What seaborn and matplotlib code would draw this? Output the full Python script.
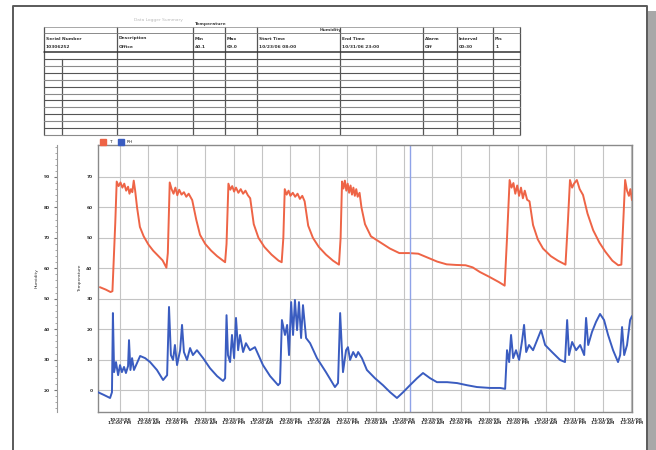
import matplotlib
matplotlib.use("Agg")
import matplotlib.pyplot as plt
from matplotlib.lines import Line2D
from matplotlib.ticker import MultipleLocator
import seaborn as sns
import pandas as pd

# temperature trace (hours from first grid line, value)
temp_hours = [-8.5, -6, -4, -3.2, -2.0, -1.4, -0.6, 0.2, 1.0, 1.8, 2.6, 3.4, 4.0, 4.6, 5.2, 5.8, 6.4,
              7.2, 8.4, 10, 12, 14, 16, 18, 19.6,
              20.2, 21.0, 21.8, 22.6, 23.4, 24.2, 25.0, 26.0, 27.0, 28.0, 29.0, 30.5, 32.2, 33.8,
              36, 38.5, 41, 43, 44.4,
              45.0, 45.8, 46.6, 47.4, 48.2, 49.0, 50.0, 51.0, 52.0, 53.0, 54.0, 55.0, 56.5, 58.5,
              61, 64, 67, 68.3,
              69.0, 69.6, 70.4, 71.2, 72.0, 73.0, 74.0, 75.0, 76.0, 77.0, 78.0, 79.5, 81.5,
              84, 87, 90, 92.5,
              93.2, 93.8, 94.4, 95.0, 95.6, 96.2, 96.8, 97.4, 98.0, 98.6, 99.2, 99.8, 100.4, 101.2,
              102.0, 103.5, 106, 110, 114, 118, 122, 126, 130, 134, 138, 142, 146, 149, 152, 156,
              160, 162.5,
              163.5, 164.6, 165.4, 166.2, 167.0, 167.8, 168.6, 169.4, 170.2, 171.0, 172.0, 173.0,
              174.5, 176.5, 178.7, 182, 185, 188.2,
              189.2, 190.1, 191.0, 191.8, 193.0, 194.2, 195.6, 197.5, 199.9, 202.5, 205, 208,
              210.5, 211.8,
              212.6, 213.4, 214.2, 215.0, 215.6, 216.3]
temp_values = [33.8, 33.0, 32.2, 32.5, 55, 68.5, 67.0, 68.2, 66.5, 67.8, 65.5, 66.8, 64.5, 66.0, 65.0, 68.8, 65.5,
               60.0, 53.6, 50.5, 47.8, 45.8, 44.2, 42.6, 40.2,
               45, 68.2, 66.0, 64.5, 66.5, 64.0, 65.8, 64.2, 65.0, 63.5, 64.5, 62.4, 56, 51.0,
               48.0, 45.8, 44.0, 42.8, 42.0,
               48, 67.8, 65.8, 67.0, 65.2, 66.5, 64.8, 66.0, 64.5, 65.5, 64.0, 63.0, 54.5, 50.0,
               47.0, 44.5, 42.5, 42.0,
               50, 66.0, 64.2, 65.5, 63.8, 64.8, 63.5, 64.5, 62.8, 63.8, 62.0, 54.0, 50.0,
               47.0, 44.5, 42.5, 41.2,
               50, 68.5, 66.2, 68.8, 65.5, 67.8, 64.8, 67.2, 64.2, 66.5, 63.8, 66.0, 63.5, 64.8,
               60, 54.5, 50.5, 48.5, 46.5, 45.0, 45.0, 44.8, 43.5, 42.2, 41.3, 41.1, 41.0, 40.3, 38.8, 37.2,
               35.5, 34.3,
               50, 69.0, 66.5, 68.0, 64.5, 67.2, 63.8, 66.5, 63.0, 65.5, 62.5, 62.0,
               54.2, 49.5, 46.5, 44.0, 42.5, 41.2,
               55, 69.0, 66.5, 67.8, 69.0, 66.0, 64.1, 58, 52.5, 48.5, 45.5, 42.5,
               41.0, 41.2,
               55, 69.0, 65.5, 63.8, 66.0, 62.4]

# relative humidity trace
rh_hours = [-9.3, -6.8, -4.2, -3.4, -3.0, -2.5, -1.7, -0.8, 0, 0.8, 1.7, 2.5, 3.4, 3.8, 4.4, 5.1, 5.9, 6.8,
            8.5, 10.6, 12.7, 15.6, 18.2, 19.9,
            20.7, 21.5, 22.4, 23.2, 24.1, 25.4, 26.2, 27.0, 28.3, 29.6, 30.8, 32.5, 35.1, 38.0, 41.0,
            43.5, 44.4,
            45.0, 45.6, 46.5, 47.3, 48.2, 49.0, 49.9, 50.7, 52.0, 53.2, 54.9, 57.0, 60.4, 63.4, 66.8,
            67.6,
            68.4, 69.7, 70.6, 71.4, 72.3, 73.1, 73.9, 74.8, 75.6, 76.5, 77.3, 78.6, 80.3, 83.2, 87.0,
            90.8, 92.1,
            93.0, 94.2, 95.5, 96.3, 97.2, 98.5, 99.7, 100.6, 102.2, 104.3, 107.7, 111.1, 114.1, 117.0,
            119.6, 122.5, 125.5, 128.0, 131.0, 133.9, 138.2, 142.4, 146.6, 150.8, 156.3, 160.6, 162.7,
            163.5, 164.4, 165.2, 166.1, 167.3, 168.6, 169.9, 170.7, 171.6, 172.8, 174.5, 176.2, 177.9,
            179.6, 182.5, 185.9, 188.0,
            188.9, 189.7, 191.0, 192.7, 194.4, 196.1, 196.9, 197.8, 199.4, 201.1, 202.8, 204.5, 206.2,
            208.3, 210.4, 211.3, 212.1, 213.0, 214.2, 215.5, 216.3]
rh_values = [19.3, 18.4, 17.4, 19.3, 45.3, 25.9, 29.2, 24.9, 28.2, 25.9, 27.6, 25.6, 27.9, 36.4, 26.6, 30.5, 26.6, 28.2,
             31.2, 30.5, 29.2, 26.6, 23.3, 24.9,
             47.3, 31.5, 29.9, 34.8, 28.2, 33.1, 41.4, 32.5, 29.9, 33.8, 31.5, 33.1, 30.5, 27.2, 24.6,
             23.0, 23.9,
             44.6, 31.5, 29.2, 38.1, 30.5, 43.7, 33.1, 38.1, 32.5, 35.4, 33.1, 34.1, 28.2, 24.6, 21.6,
             22.3,
             43.0, 38.1, 41.4, 31.5, 48.9, 38.1, 49.6, 39.7, 48.9, 37.1, 47.9, 37.1, 35.4, 30.5, 25.9,
             21.0, 22.3,
             45.3, 25.9, 33.1, 34.1, 29.9, 32.5, 30.8, 32.5, 30.5, 26.6, 23.9, 21.6, 19.3, 17.4,
             19.3, 21.6, 23.9, 25.6, 23.9, 22.6, 22.6, 22.3, 21.6, 21.0, 20.7, 20.7, 20.4,
             33.1, 29.2, 38.1, 30.5, 33.1, 29.9, 36.4, 41.4, 32.5, 34.8, 33.1, 36.4, 39.7,
             34.8, 32.5, 29.9, 29.2,
             43.0, 31.5, 35.8, 33.1, 34.8, 31.5, 43.7, 34.8, 39.1, 42.4, 45.0, 43.0, 38.1,
             33.1, 29.2, 31.5, 40.7, 31.5, 34.8, 43.0, 44.3]

grid_hours = list(range(0, 217, 12))
tick_labels = list(pd.date_range("2006-10-23 12:00", periods=len(grid_hours), freq="12h")
                   .strftime("%m/%d/%y\n%I:%M %p"))
temp_ticks = [0, 10, 20, 30, 40, 50, 60, 70]
rh_ticks = [20, 30, 40, 50, 60, 70, 80, 90]
marker_hour = 122.5

table_cols = [44, 62, 117, 193, 225, 257, 340, 423, 457, 493, 520]
table_head = ["Serial Number", "", "Description", "Min", "Max", "Start Time",
              "End Time", "Alarm", "Interval", "Pts"]
table_row1 = ["10306252", "", "Office", "40.1", "69.0", "10/23/06 08:00", "10/31/06 23:00",
              "Off", "00:30", "1"]

RED = "#ee6446"
BLUE = "#3a5cc0"
TXT = "#333333"
FS = 3.2

sns.set_theme(style="white")
plt.rcParams["font.family"] = ["DejaVu Sans"]

fig = plt.figure(figsize=(6.56, 4.5), dpi=100)
W, H = 656, 450

# page background, frame and the report table
bg = fig.add_axes([0, 0, 1, 1], zorder=0)
bg.set_xlim(0, W)
bg.set_ylim(H, 0)
bg.axis("off")
bg.plot([13, 13, 647, 647], [H, 6, 6, H], color="#5a5a5a", lw=1.4)
bg.fill_between([648, W], 11, H, color="#a8a8a8", lw=0)

top, head_bot, bottom = 27, 52, 135
n_rows = 12
step = (bottom - head_bot) / n_rows
for x in table_cols:
    y0 = head_bot + step if x == 62 else top
    bg.plot([x, x], [y0, bottom], color="#555555", lw=0.9)
bg.plot([table_cols[0], table_cols[-1]], [top, top], color="#999999", lw=0.6)
bg.plot([table_cols[0], table_cols[-1]], [33, 33], color="#777777", lw=0.6)
bg.plot([table_cols[0], table_cols[-1]], [head_bot, head_bot], color="#333333", lw=1.1)
for i in range(1, n_rows + 1):
    y = head_bot + i * step
    bg.plot([table_cols[0], table_cols[-1]], [y, y],
            color="#555555" if i % 2 else "#8a8a8a", lw=0.8)
for i, (txt, val) in enumerate(zip(table_head, table_row1)):
    bg.text(table_cols[i] + 2, 38.5, txt, fontsize=FS, fontweight="bold", color=TXT,
            va="center", ha="left")
    bg.text(table_cols[i] + 2, 46.5, val, fontsize=FS, fontweight="bold", color=TXT,
            va="center", ha="left")
bg.text(table_cols[3] + 2, 24, "Temperature", fontsize=FS, fontweight="bold", color="#444444",
        va="center")
bg.text(table_cols[6] - 20, 30, "Humidity", fontsize=FS, fontweight="bold", color="#444444",
        va="center")
bg.text(table_cols[0] + 90, 20, "Data Logger Summary", fontsize=FS, color="#bbbbbb", va="center")

# chart
ax = fig.add_axes([98 / W, 1 - 412 / H, 534 / W, 267 / H], zorder=2)
ax.set_facecolor("white")
sns.lineplot(x=temp_hours, y=temp_values, ax=ax, color=RED, lw=1.4, estimator=None, sort=False)
ax.set_xlim(-9.3, 216.3)
ax.set_ylim(-7.2, 80.5)
ax.set_xticks(grid_hours)
ax.set_xticklabels(tick_labels, linespacing=0.9)
ax.set_yticks(temp_ticks)
ax.set_yticklabels([str(t) for t in temp_ticks])
ax.tick_params(axis="both", length=0, pad=4, labelsize=FS, labelcolor=TXT)
for lab in ax.get_xticklabels() + ax.get_yticklabels():
    lab.set_fontweight("bold")
ax.grid(True, color="#c4c4c4", lw=0.8)
ax.axvline(marker_hour, color="#8fa3e8", lw=1.0)
ax.set_ylabel("Temperature", fontsize=FS, color=TXT, labelpad=3)
ax.set_xlabel("")
for s in ax.spines.values():
    s.set_color("#8a8a8a")
    s.set_linewidth(1.0)

ax2 = ax.twinx()
ax2.set_zorder(3)
ax2.patch.set_visible(False)
sns.lineplot(x=rh_hours, y=rh_values, ax=ax2, color=BLUE, lw=1.4, estimator=None, sort=False)
ax2.set_ylim(12.8, 100.5)
ax2.yaxis.set_ticks_position("left")
ax2.yaxis.set_label_position("left")
ax2.set_yticks(rh_ticks)
ax2.set_yticklabels([str(t) for t in rh_ticks])
ax2.yaxis.set_minor_locator(MultipleLocator(2))
ax2.spines["left"].set_position(("axes", -(98 - 57) / 534))
ax2.spines["left"].set_visible(True)
ax2.spines["left"].set_color("#9a9a9a")
ax2.spines["left"].set_linewidth(0.8)
ax2.spines["right"].set_visible(False)
ax2.spines["top"].set_visible(False)
ax2.spines["bottom"].set_visible(False)
ax2.tick_params(axis="y", which="major", length=2, width=0.8, color="#777777", pad=3,
                labelsize=FS, labelcolor=TXT, left=True, labelleft=True, right=False, labelright=False)
ax2.tick_params(axis="y", which="minor", length=1.5, width=0.6, color="#999999", left=True, right=False)
for lab in ax2.get_yticklabels():
    lab.set_fontweight("bold")
ax2.set_ylabel("Humidity", fontsize=FS, color=TXT, labelpad=4)
ax2.grid(False)

handles = [Line2D([], [], marker="s", ls="", color=RED, ms=4, label="T"),
           Line2D([], [], marker="s", ls="", color=BLUE, ms=4, label="RH")]
ax2.legend(handles=handles, loc="lower left", bbox_to_anchor=(0, 1.0), ncol=2, frameon=False,
           fontsize=FS, handletextpad=0.2, columnspacing=1.2, borderpad=0.1, borderaxespad=0.1)

fig.savefig("out.png", dpi=100)
